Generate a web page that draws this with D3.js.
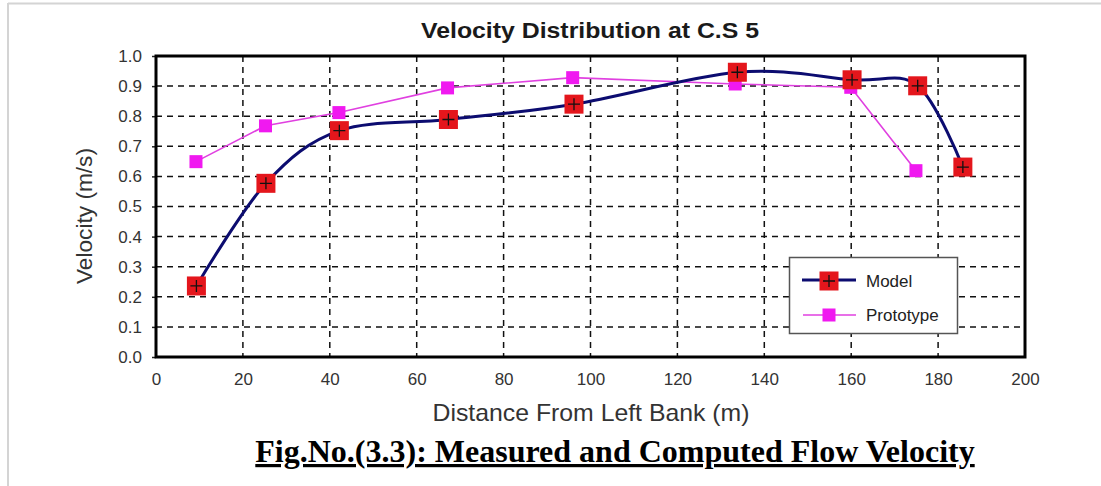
<!DOCTYPE html>
<html>
<head>
<meta charset="utf-8">
<script src="https://cdn.jsdelivr.net/npm/d3@7"></script>
<style>
  html, body { margin: 0; padding: 0; background: #fff; }
  svg { display: block; }
</style>
</head>
<body>
<svg id="chart" width="1101" height="486"></svg>
<script>
// Cross-section 5 velocity profile: distance from left bank (m) vs velocity (m/s)
const modelDistance = [9.3, 25.3, 42.2, 67.3, 96.2, 133.8, 160.2, 175.3, 185.7];
const modelVelocity = [0.236, 0.577, 0.752, 0.789, 0.840, 0.946, 0.921, 0.901, 0.631];

const protoDistance = [9.2, 25.2, 42.1, 67.1, 95.9, 133.3, 159.9, 174.9];
const protoVelocity = [0.649, 0.768, 0.812, 0.894, 0.928, 0.907, 0.896, 0.619];

const xTicks = [0, 20, 40, 60, 80, 100, 120, 140, 160, 180, 200];
const yTicks = [0.0, 0.1, 0.2, 0.3, 0.4, 0.5, 0.6, 0.7, 0.8, 0.9, 1.0];

const svg = d3.select("#chart");

// page border lines
svg.append("line").attr("x1", 8).attr("x2", 1101).attr("y1", 3.5).attr("y2", 3.5)
  .attr("stroke", "#d4d4d4").attr("stroke-width", 2);
svg.append("line").attr("x1", 8).attr("x2", 8).attr("y1", 3).attr("y2", 486)
  .attr("stroke", "#d4d4d4").attr("stroke-width", 2);

const plot = { left: 156, right: 1025, top: 56, bottom: 357 };

const x = d3.scaleLinear().domain([0, 200]).range([plot.left, plot.right]);
const y = d3.scaleLinear().domain([0, 1]).range([plot.bottom, plot.top]);

// dashed grid
const grid = svg.append("g");
grid.selectAll(".gx").data(xTicks.slice(1, -1)).join("line")
  .attr("x1", d => x(d)).attr("x2", d => x(d))
  .attr("y1", plot.top).attr("y2", plot.bottom)
  .attr("stroke", "#111").attr("stroke-width", 1.5).attr("stroke-dasharray", "6,5");
grid.selectAll(".gy").data(yTicks.slice(1, -1)).join("line")
  .attr("x1", plot.left).attr("x2", plot.right)
  .attr("y1", d => y(d)).attr("y2", d => y(d))
  .attr("stroke", "#111").attr("stroke-width", 1.5).attr("stroke-dasharray", "6,5");

// axes
const axisFont = "Liberation Sans, Arial, sans-serif";
const yAxis = svg.append("g").attr("transform", `translate(${plot.left},0)`)
  .call(d3.axisLeft(y).tickValues(yTicks).tickFormat(d3.format(".1f")).tickSize(4).tickPadding(10));
const xAxis = svg.append("g").attr("transform", `translate(0,${plot.bottom})`)
  .call(d3.axisBottom(x).tickValues(xTicks).tickSize(0).tickPadding(16));
[yAxis, xAxis].forEach(a => {
  a.select(".domain").remove();
  a.selectAll(".tick line").attr("stroke", "#222").attr("stroke-width", 1.5);
  a.selectAll("text").attr("font-family", axisFont).attr("font-size", 17).attr("fill", "#333");
});

// frame
svg.append("rect")
  .attr("x", plot.left).attr("y", plot.top)
  .attr("width", plot.right - plot.left).attr("height", plot.bottom - plot.top)
  .attr("fill", "none").attr("stroke", "#000").attr("stroke-width", 3);

// prototype series: straight segments with small magenta squares
const protoData = protoDistance.map((d, i) => [d, protoVelocity[i]]);
svg.append("path").datum(protoData)
  .attr("d", d3.line().x(d => x(d[0])).y(d => y(d[1])))
  .attr("fill", "none").attr("stroke", "#e040e0").attr("stroke-width", 1.6);
svg.append("g").selectAll("rect").data(protoData).join("rect")
  .attr("x", d => x(d[0]) - 6.5).attr("y", d => y(d[1]) - 6.5)
  .attr("width", 13).attr("height", 13).attr("fill", "#f019f0");

// model series: smoothed line with red squares and plus marks
const modelData = modelDistance.map((d, i) => [d, modelVelocity[i]]);
svg.append("path").datum(modelData)
  .attr("d", d3.line().curve(d3.curveCardinal.tension(0)).x(d => x(d[0])).y(d => y(d[1])))
  .attr("fill", "none").attr("stroke", "#0c0c70").attr("stroke-width", 3);
function modelMarker(g, cx, cy) {
  g.append("rect").attr("x", cx - 9.5).attr("y", cy - 9.5).attr("width", 19).attr("height", 19)
    .attr("fill", "#e4161c");
  g.append("path").attr("d", `M${cx - 6},${cy}H${cx + 6}M${cx},${cy - 6}V${cy + 6}`)
    .attr("stroke", "#111").attr("stroke-width", 1.3);
}
const mk = svg.append("g");
modelData.forEach(d => modelMarker(mk, x(d[0]), y(d[1])));

// legend
const lg = svg.append("g");
lg.append("rect").attr("x", 789.5).attr("y", 257.5).attr("width", 168).attr("height", 76)
  .attr("fill", "#fff").attr("stroke", "#555").attr("stroke-width", 1.5);
lg.append("line").attr("x1", 802).attr("x2", 856).attr("y1", 280).attr("y2", 280)
  .attr("stroke", "#0c0c70").attr("stroke-width", 3);
modelMarker(lg, 829, 281);
lg.append("text").attr("x", 866).attr("y", 287).text("Model")
  .attr("font-family", axisFont).attr("font-size", 17).attr("fill", "#222");
lg.append("line").attr("x1", 803).attr("x2", 856).attr("y1", 315).attr("y2", 315)
  .attr("stroke", "#e040e0").attr("stroke-width", 1.6);
lg.append("rect").attr("x", 822.5).attr("y", 308.5).attr("width", 13).attr("height", 13).attr("fill", "#f019f0");
lg.append("text").attr("x", 866).attr("y", 321).text("Prototype")
  .attr("font-family", axisFont).attr("font-size", 17).attr("fill", "#222");

// titles
svg.append("text").attr("x", 590).attr("y", 38).attr("text-anchor", "middle")
  .attr("font-family", axisFont).attr("font-weight", "bold").attr("font-size", 22).attr("fill", "#1a1a1a")
  .attr("textLength", 338).attr("lengthAdjust", "spacingAndGlyphs")
  .text("Velocity Distribution at C.S 5");
svg.append("text").attr("transform", "translate(92,216) rotate(-90)").attr("text-anchor", "middle")
  .attr("font-family", axisFont).attr("font-size", 22).attr("fill", "#333")
  .attr("textLength", 136).attr("lengthAdjust", "spacingAndGlyphs")
  .text("Velocity (m/s)");
svg.append("text").attr("x", 591).attr("y", 421).attr("text-anchor", "middle")
  .attr("font-family", axisFont).attr("font-size", 24).attr("fill", "#333")
  .attr("textLength", 317).attr("lengthAdjust", "spacingAndGlyphs")
  .text("Distance From Left Bank (m)");
svg.append("text").attr("x", 615).attr("y", 462).attr("text-anchor", "middle")
  .attr("font-family", "Liberation Serif, 'Times New Roman', serif").attr("font-weight", "bold")
  .attr("font-size", 32).attr("fill", "#000").attr("text-decoration", "underline")
  .text("Fig.No.(3.3): Measured and Computed Flow Velocity");
</script>
</body>
</html>
